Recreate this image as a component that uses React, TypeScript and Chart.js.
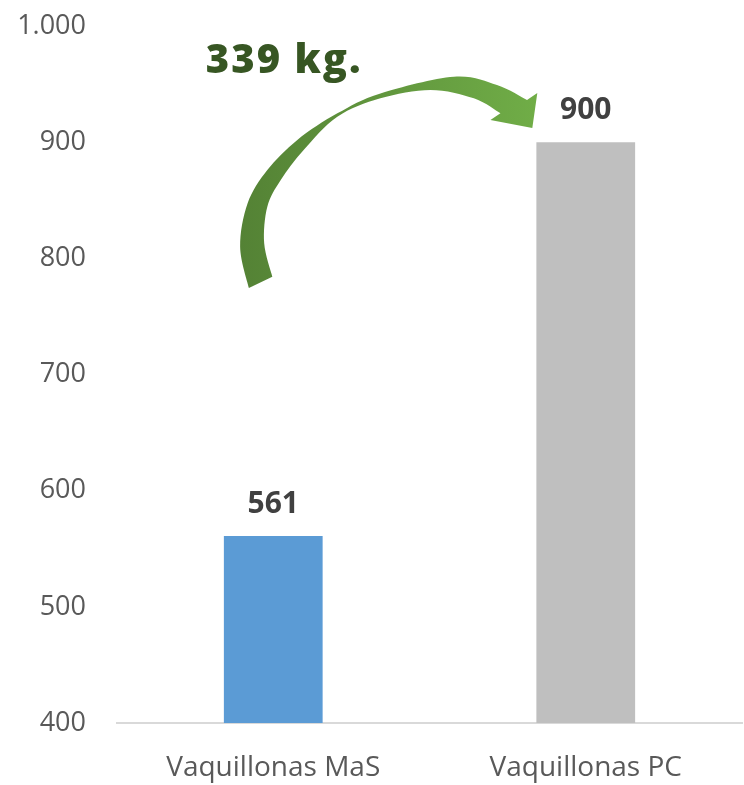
import React, { useEffect, useRef } from "react";
import { Chart, registerables } from "chart.js";

Chart.register(...registerables);

// ---- Data ----
const categories = ["Vaquillonas MaS", "Vaquillonas PC"];
const values = [561, 900];
const barColors = ["#5B9BD5", "#BFBFBF"];
const yMin = 400;
const yMax = 1000;
const yStep = 100;
const differenceLabel = "339 kg.";

// Arrow annotation outline in data space: [category position, value]
const arrowOuter: [number, number][] = [
  [-0.078, 774.5],
  [-0.106, 810],
  [-0.082, 847.4],
  [-0.019, 876],
  [0.077, 901.9],
  [0.205, 924.8],
  [0.343, 942],
  [0.578, 956.4],
  [0.716, 949.2],
  [0.812, 936.3],
];
const arrowHead: [number, number][] = [
  [0.845, 942.3],
  [0.829, 912.2],
  [0.695, 919.1],
];
const arrowInner: [number, number][] = [
  [0.727, 924.9],
  [0.642, 937.8],
  [0.503, 945],
  [0.343, 937.8],
  [0.205, 921.9],
  [0.098, 893.4],
  [0.024, 867.4],
  [-0.019, 844.4],
  [-0.029, 812.9],
  [-0.003, 784.2],
];
const labelAnchor: [number, number] = [-0.216, 969];

const fmt = (v: number) =>
  String(Math.round(v)).replace(/\B(?=(\d{3})+(?!\d))/g, ".");

function smoothThrough(ctx: CanvasRenderingContext2D, pts: number[][]) {
  for (let i = 0; i < pts.length - 1; i++) {
    const p0 = pts[i - 1] || pts[i];
    const p1 = pts[i];
    const p2 = pts[i + 1];
    const p3 = pts[i + 2] || p2;
    const c1x = p1[0] + (p2[0] - p0[0]) / 6;
    const c1y = p1[1] + (p2[1] - p0[1]) / 6;
    const c2x = p2[0] - (p3[0] - p1[0]) / 6;
    const c2y = p2[1] - (p3[1] - p1[1]) / 6;
    ctx.bezierCurveTo(c1x, c1y, c2x, c2y, p2[0], p2[1]);
  }
}

const annotationPlugin = {
  id: "annotations",
  afterDatasetsDraw(chart: any) {
    const { ctx } = chart;
    const xs = chart.scales.x;
    const ys = chart.scales.y;
    const x0 = xs.getPixelForValue(0);
    const x1 = xs.getPixelForValue(1);
    const P = (p: [number, number]) => [x0 + p[0] * (x1 - x0), ys.getPixelForValue(p[1])];

    // data labels
    const meta = chart.getDatasetMeta(0);
    ctx.save();
    ctx.font = "bold 30px 'Open Sans'";
    ctx.fillStyle = "#404040";
    ctx.textAlign = "center";
    ctx.textBaseline = "middle";
    meta.data.forEach((bar: any, i: number) => {
      ctx.fillText(String(values[i]), bar.x, bar.y - 32);
    });
    ctx.restore();

    // arrow
    const outer = arrowOuter.map(P);
    const head = arrowHead.map(P);
    const inner = arrowInner.map(P);
    ctx.save();
    const g = ctx.createLinearGradient(outer[1][0], 0, head[0][0], 0);
    g.addColorStop(0, "#548235");
    g.addColorStop(1, "#70AD47");
    ctx.fillStyle = g;
    ctx.beginPath();
    ctx.moveTo(outer[0][0], outer[0][1]);
    smoothThrough(ctx, outer);
    head.forEach((p) => ctx.lineTo(p[0], p[1]));
    ctx.lineTo(inner[0][0], inner[0][1]);
    smoothThrough(ctx, inner);
    ctx.closePath();
    ctx.fill();
    ctx.restore();

    // difference label
    const a = P(labelAnchor);
    ctx.save();
    ctx.font = "800 40px 'Open Sans'";
    (ctx as any).letterSpacing = "2px";
    ctx.fillStyle = "#375623";
    ctx.textAlign = "left";
    ctx.textBaseline = "middle";
    ctx.fillText(differenceLabel, a[0], a[1]);
    ctx.restore();
  },
};

export default function App() {
  const ref = useRef<HTMLCanvasElement>(null);
  useEffect(() => {
    if (!ref.current) return;
    const chart = new Chart(ref.current, {
      type: "bar",
      data: {
        labels: categories,
        datasets: [
          {
            data: values,
            backgroundColor: barColors,
            barPercentage: 0.316,
            categoryPercentage: 1,
          },
        ],
      },
      options: {
        responsive: false,
        animation: false,
        layout: { padding: { top: 26, right: 2, left: 0, bottom: 0 } },
        plugins: { legend: { display: false }, tooltip: { enabled: false } },
        scales: {
          x: {
            grid: { display: false },
            border: { display: true, color: "#D9D9D9", width: 2 },
            ticks: {
              color: "#595959",
              font: { family: "'Open Sans'", size: 28 },
              padding: 20,
              maxRotation: 0,
            },
            afterFit: (s: any) => {
              s.height = 62;
            },
          },
          y: {
            min: yMin,
            max: yMax,
            grid: {
              display: true,
              drawOnChartArea: false,
              drawTicks: true,
              tickLength: 31,
              color: "rgba(0,0,0,0)",
            },
            border: { display: false },
            ticks: {
              stepSize: yStep,
              color: "#595959",
              font: { family: "'Open Sans'", size: 27 },
              padding: 0,
              callback: (v: any) => fmt(Number(v)),
            },
            afterFit: (s: any) => {
              s.width = 117;
            },
          },
        },
      },
      plugins: [annotationPlugin],
    });
    return () => chart.destroy();
  }, []);
  return (
    <div style={{ position: "fixed", left: 0, top: 0, width: 744, height: 785, background: "#fff" }}>
      <canvas ref={ref} width={744} height={785} />
    </div>
  );
}
